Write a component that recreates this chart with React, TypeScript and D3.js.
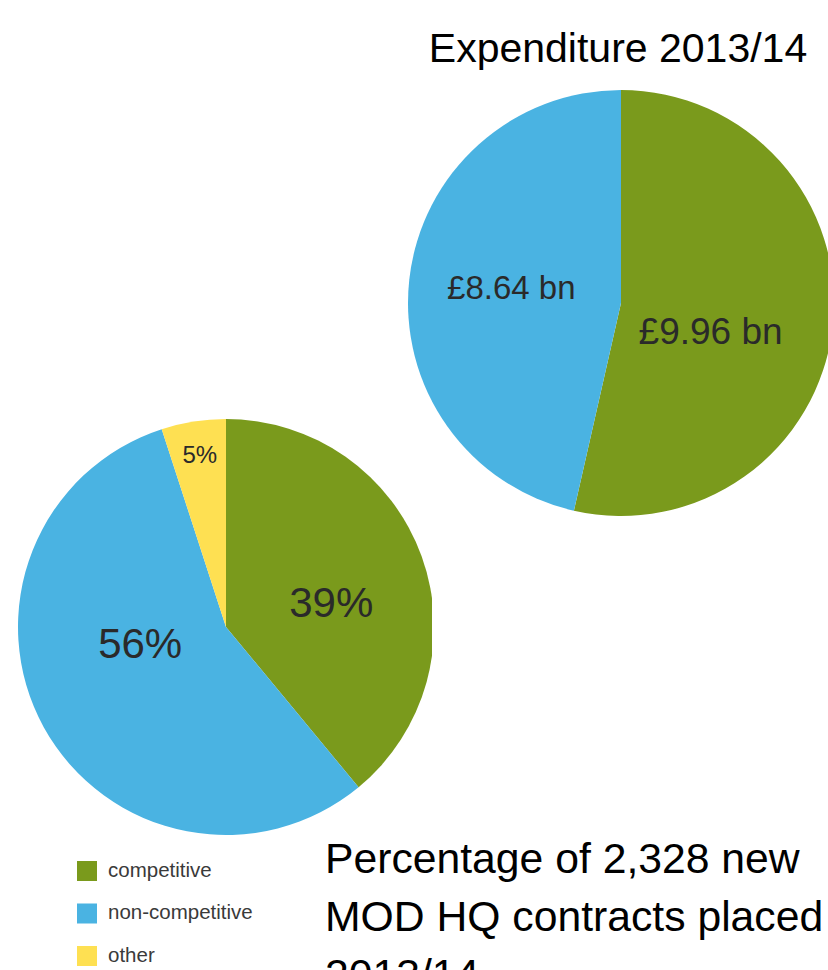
import React from "react";
import * as d3 from "d3";

// Expenditure 2013/14 (£ bn)
const expenditureCategories = ["competitive", "non-competitive"];
const expenditureValues = [9.96, 8.64];
const expenditureLabels = ["£9.96 bn", "£8.64 bn"];

// Percentage of 2,328 new MOD HQ contracts placed 2013/14
const contractCategories = ["competitive", "non-competitive", "other"];
const contractValues = [39, 56, 5];
const contractLabels = ["39%", "56%", "5%"];

const legendCategories = ["competitive", "non-competitive", "other"];

const topTitle = "Expenditure 2013/14";
const bottomTitleLines = ["Percentage of 2,328 new", "MOD HQ contracts placed", "2013/14"];

const COLORS: Record<string, string> = {
  competitive: "#7a9a1c",
  "non-competitive": "#4ab3e2",
  other: "#fee052",
};

const FONT = "'Liberation Sans', Arial, Helvetica, sans-serif";

type PieProps = {
  cx: number;
  cy: number;
  r: number;
  cats: string[];
  values: number[];
  labels: string[];
  labelT: number[];
  labelK: number[];
  fontSizes: number[];
};

function Pie({ cx, cy, r, cats, values, labels, labelT, labelK, fontSizes }: PieProps) {
  const pie = d3
    .pie<number>()
    .sort(null)
    .value((v) => v)
    .startAngle(0)
    .endAngle(2 * Math.PI);
  const arcs = pie(values);
  const arc = d3.arc<d3.PieArcDatum<number>>().innerRadius(0).outerRadius(r);
  return (
    <g transform={`translate(${cx},${cy})`}>
      {arcs.map((a, i) => (
        <path key={cats[i]} d={arc(a) || ""} fill={COLORS[cats[i]]} />
      ))}
      {arcs.map((a, i) => {
        const ang = a.startAngle + labelT[i] * (a.endAngle - a.startAngle);
        const x = Math.sin(ang) * labelK[i] * r;
        const y = -Math.cos(ang) * labelK[i] * r;
        return (
          <text
            key={"l" + i}
            x={x}
            y={y}
            dy="0.36em"
            textAnchor="middle"
            fontFamily={FONT}
            fontSize={fontSizes[i]}
            fill="#2a2a2a"
          >
            {labels[i]}
          </text>
        );
      })}
    </g>
  );
}

export default function App() {
  const W = 828;
  const H = 970;
  return (
    <svg
      width={W}
      height={H}
      style={{ position: "absolute", left: 0, top: 0, display: "block", background: "#fff" }}
    >
      <text x={618} y={62} textAnchor="middle" fontFamily={FONT} fontSize={41} fill="#000">
        {topTitle}
      </text>
      <Pie
        cx={621}
        cy={303}
        r={213}
        cats={expenditureCategories}
        values={expenditureValues}
        labels={expenditureLabels}
        labelT={[0.555, 0.51]}
        labelK={[0.44, 0.52]}
        fontSizes={[37, 33]}
      />
      <defs>
        <clipPath id="lowclip">
          <rect x={0} y={380} width={432} height={480} />
        </clipPath>
      </defs>
      <g clipPath="url(#lowclip)">
        <Pie
          cx={226}
          cy={627}
          r={208}
          cats={contractCategories}
          values={contractValues}
          labels={contractLabels}
          labelT={[0.546, 0.59, 0.52]}
          labelK={[0.52, 0.42, 0.84]}
          fontSizes={[42, 42, 24]}
        />
      </g>
      {legendCategories.map((c, i) => (
        <g key={c} transform={`translate(77,${861 + i * 42.5})`}>
          <rect width={20} height={20} fill={COLORS[c]} />
          <text x={31} y={15.5} fontFamily={FONT} fontSize={20.5} fill="#3a3a3a">
            {c}
          </text>
        </g>
      ))}
      {bottomTitleLines.map((t, i) => (
        <text key={i} x={325} y={873 + i * 58} fontFamily={FONT} fontSize={42.7} fill="#000">
          {t}
        </text>
      ))}
    </svg>
  );
}
